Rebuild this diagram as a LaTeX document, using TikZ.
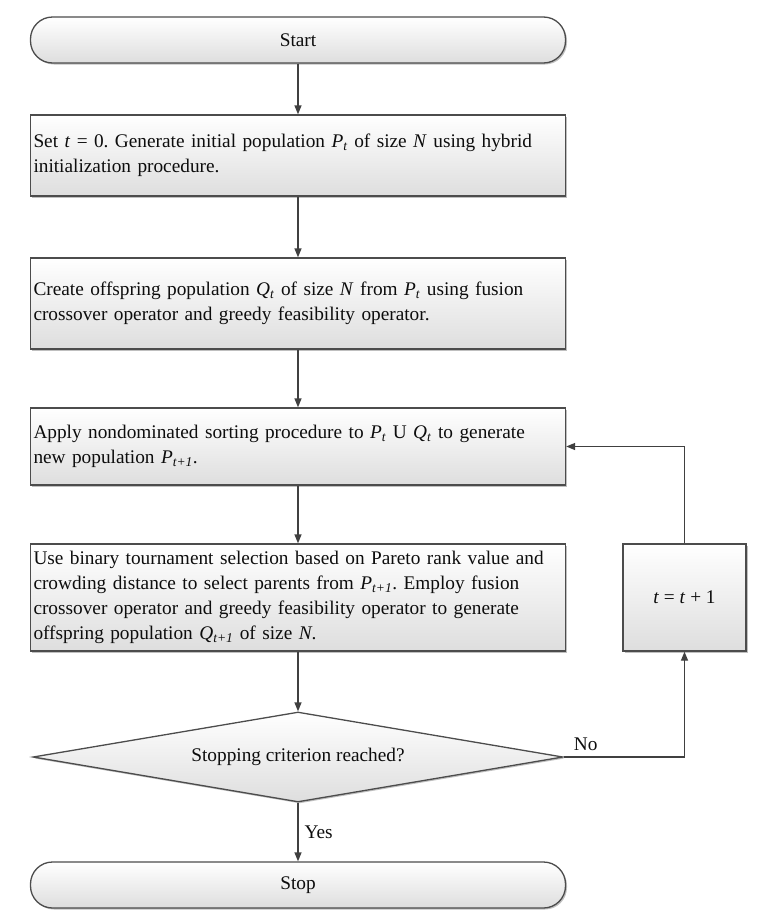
\documentclass[tikz,border=0pt]{standalone}
\usepackage{fontspec}
\setmainfont{Liberation Serif}
\usetikzlibrary{arrows.meta,shapes.geometric,shadows}
\newcommand{\iv}[1]{\textit{#1}}
\newcommand{\sub}[1]{\textsubscript{\textit{#1}}}
\frenchspacing
\begin{document}
\begin{tikzpicture}[x=1pt,y=-1pt,
  every node/.style={font=\fontsize{19.3}{25}\selectfont, text=black!95},
  shade/.style={top color=white, bottom color=black!13, draw=black!70, line width=1.3pt,
    drop shadow={shadow xshift=1.5pt, shadow yshift=-1.5pt, opacity=0.25, fill=black}},
  term/.style={shade, rounded corners=22pt, minimum width=535pt, minimum height=46pt, inner sep=0pt},
  procbox/.style={shade, minimum width=535pt, text width=529pt, inner sep=3pt, align=left},
  decbox/.style={diamond, shade, aspect=5.9, inner sep=0pt, minimum width=530pt, minimum height=90pt},
  incbox/.style={shade, minimum width=123pt, minimum height=107pt, inner sep=0pt},
  conn/.style={draw=black!75, line width=1.3pt, -{Triangle[length=9pt,width=7pt]}},
  lbl/.style={inner sep=0pt}
]
\useasboundingbox (0,0) rectangle (764,924);

\node[term] (start) at (298,40) {Start};
\node[procbox, minimum height=81pt] (b1) at (298,155.5)
  {Set \iv{t} = 0. Generate initial population \iv{P}\sub{t} of size \iv{N} using hybrid\\initialization procedure.};
\node[procbox, minimum height=91pt] (b2) at (298,303.5)
  {Create offspring population \iv{Q}\sub{t} of size \iv{N} from \iv{P}\sub{t} using fusion\\crossover operator and greedy feasibility operator.};
\node[procbox, minimum height=77pt] (b3) at (298,446.5)
  {Apply nondominated sorting procedure to \iv{P}\sub{t} U \iv{Q}\sub{t} to generate\\new population \iv{P}\sub{t+1}.};
\node[procbox, minimum height=107pt] (b4) at (298,597.5)
  {Use binary tournament selection based on Pareto rank value and\\crowding distance to select parents from \iv{P}\sub{t+1}. Employ fusion\\crossover operator and greedy feasibility operator to generate\\offspring population \iv{Q}\sub{t+1} of size \iv{N}.};
\node[decbox] (dec) at (298,757) {Stopping criterion reached?};
\node[term] (stop) at (298,885) {Stop};
\node[incbox] (inc) at (684.5,597.5) {\iv{t} = \iv{t} + 1};

\draw[conn] (start) -- (b1);
\draw[conn] (b1) -- (b2);
\draw[conn] (b2) -- (b3);
\draw[conn] (b3) -- (b4);
\draw[conn] (b4) -- (dec);
\draw[conn] (dec) -- (stop) node[lbl, pos=0.5, anchor=west, xshift=6pt] (yes) {Yes};
\draw[conn] (dec.east) -| (inc.south);
\draw[conn] (inc.north) |- (b3.east);
\node[lbl, anchor=south west] (no) at ([xshift=10pt,yshift=6pt]dec.east) {No};
\end{tikzpicture}
\end{document}
